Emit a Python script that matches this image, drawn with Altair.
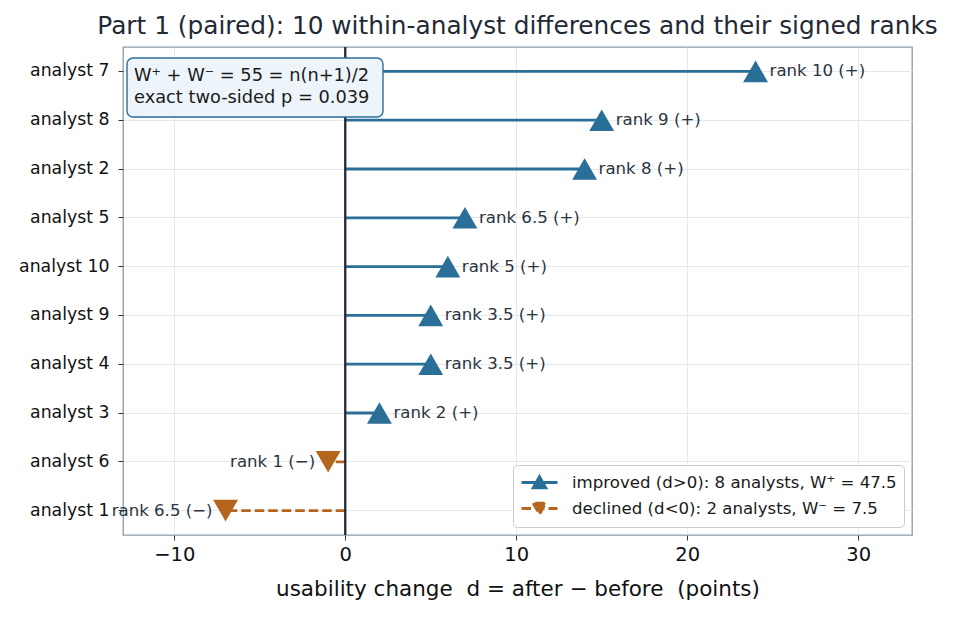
import altair as alt
import pandas as pd

# Within-analyst usability differences (after - before), top to bottom
analysts = ["analyst 7", "analyst 8", "analyst 2", "analyst 5", "analyst 10",
            "analyst 9", "analyst 4", "analyst 3", "analyst 6", "analyst 1"]
diffs = [24, 15, 14, 7, 6, 5, 5, 2, -1, -7]
rank_labels = ["rank 10 (+)", "rank 9 (+)", "rank 8 (+)", "rank 6.5 (+)", "rank 5 (+)",
               "rank 3.5 (+)", "rank 3.5 (+)", "rank 2 (+)", "rank 1 (\u2212)", "rank 6.5 (\u2212)"]

GROUP_UP = "improved (d>0): 8 analysts, W\u207a = 47.5"
GROUP_DOWN = "declined (d<0): 2 analysts, W\u207b = 7.5"
groups = [GROUP_UP, GROUP_DOWN]
note_lines = ["W\u207a + W\u207b = 55 = n(n+1)/2", "exact two-sided p = 0.039"]

BLUE = "#2a6f97"
ORANGE = "#b5651d"
INK = "#1f2a36"

df = pd.DataFrame({"analyst": analysts, "d": diffs, "label": rank_labels})
df["zero"] = 0
df["group"] = [GROUP_UP if v > 0 else GROUP_DOWN for v in diffs]

W, H = 789, 488
FONT = "DejaVu Sans"
NB = "\u00a0"

x_scale = alt.Scale(domain=[-13, 33.15], nice=False, zero=False)
y_sort = analysts
y_enc = alt.Y("analyst:N", sort=y_sort, scale=alt.Scale(paddingInner=1, paddingOuter=0.5),
              axis=alt.Axis(title=None, grid=True, gridColor="#e4e8ec", labelFontSize=17.3,
                            labelColor="#111111", tickSize=5, tickColor="#333333",
                            labelPadding=9, domain=False))
x_axis = alt.Axis(values=[-10, 0, 10, 20, 30], grid=True, gridColor="#e4e8ec",
                  labelFontSize=19.5, labelColor="#111111", tickSize=5, tickColor="#333333",
                  title=f"usability change{NB}{NB}d = after \u2212 before{NB}{NB}(points)",
                  titleFontSize=21.5, titleFontWeight="normal", titleColor="#111111",
                  titlePadding=15, domain=False, labelPadding=5)

color_scale = alt.Scale(domain=groups, range=[BLUE, ORANGE])
dash_scale = alt.Scale(domain=groups, range=[[1, 0], [9.5, 4]])
shape_scale = alt.Scale(
    domain=groups,
    # legend glyphs: a short stroke with a filled triangle at its centre
    range=["M-1,0L3,0M0.3,0.6L1,-0.65L1.7,0.6Z", "M-1,0L3,0M0.3,-0.6L1,0.65L1.7,-0.6Z"],
)
legend_def = alt.Legend(title=None)

base = alt.Chart(df)

stems = base.mark_rule(strokeWidth=2.8).encode(
    x=alt.X("zero:Q", scale=x_scale, axis=x_axis),
    x2="d:Q",
    y=y_enc,
    stroke=alt.Stroke("group:N", scale=color_scale, legend=legend_def),
    strokeDash=alt.StrokeDash("group:N", scale=dash_scale, legend=legend_def),
)

zero_line = alt.Chart(pd.DataFrame({"z": [0]})).mark_rule(color=INK, strokeWidth=2.3).encode(
    x=alt.X("z:Q", scale=x_scale)
)

up_markers = base.transform_filter("datum.d > 0").mark_point(
    filled=True, size=620, opacity=1, shape="triangle-up", color=BLUE
).encode(x=alt.X("d:Q", scale=x_scale), y=alt.Y("analyst:N", sort=y_sort))

down_markers = base.transform_filter("datum.d < 0").mark_point(
    filled=True, size=620, opacity=1, shape="triangle-down", color=ORANGE
).encode(x=alt.X("d:Q", scale=x_scale), y=alt.Y("analyst:N", sort=y_sort))

labels_pos = base.transform_filter("datum.d > 0").mark_text(
    align="left", dx=14, fontSize=16.6, color="#2b3440", font=FONT
).encode(x=alt.X("d:Q", scale=x_scale), y=alt.Y("analyst:N", sort=y_sort), text="label:N")

labels_neg = base.transform_filter("datum.d < 0").mark_text(
    align="right", dx=-13, fontSize=16.6, color="#2b3440", font=FONT
).encode(x=alt.X("d:Q", scale=x_scale), y=alt.Y("analyst:N", sort=y_sort), text="label:N")

# legend-only layer: draws nothing, carries the merged legend
legend_layer = base.transform_filter("false").mark_point(size=324, strokeWidth=2.8).encode(
    x=alt.X("zero:Q", scale=x_scale),
    y=alt.Y("analyst:N", sort=y_sort),
    fill=alt.Fill("group:N", scale=color_scale, legend=legend_def),
    stroke=alt.Stroke("group:N", scale=color_scale, legend=legend_def),
    shape=alt.Shape("group:N", scale=shape_scale, legend=legend_def),
    strokeDash=alt.StrokeDash("group:N", scale=dash_scale, legend=legend_def),
)

# statistics note in the upper-left corner
note_box = alt.Chart(pd.DataFrame({"k": [0]})).mark_rect(
    fill="#eef5fa", stroke=BLUE, strokeWidth=1.4, cornerRadius=6
).encode(x=alt.value(4), x2=alt.value(260), y=alt.value(11), y2=alt.value(70))
note_text = alt.Chart(pd.DataFrame({"t": ["\n".join(note_lines)]})).mark_text(
    align="left", baseline="middle", fontSize=17.8, color="#1a1a1a", font=FONT,
    lineBreak="\n", lineHeight=22
).encode(x=alt.value(11), y=alt.value(29), text="t:N")

chart = alt.layer(
    stems, zero_line, up_markers, down_markers, labels_pos, labels_neg,
    legend_layer, note_box, note_text
).properties(
    width=W, height=H,
    title=alt.Title("Part 1 (paired): 10 within-analyst differences and their signed ranks",
                    fontSize=24.8, fontWeight="normal", color=INK, font=FONT, offset=7),
    autosize=alt.AutoSizeParams(type="none"),
    padding={"left": 123, "top": 47, "right": 43, "bottom": 84},
).configure(font=FONT).configure_view(
    stroke="#8c99a5", strokeWidth=1.3
).configure_legend(
    orient="bottom-right", offset=8, fillColor="white", strokeColor="#cccccc",
    cornerRadius=4, padding=7, labelFontSize=16.6, labelColor="#1a1a1a", labelLimit=600,
    symbolSize=324, symbolStrokeWidth=2.8, symbolOpacity=1, labelOffset=31, rowPadding=3
)

chart.save("out.html", embed_options={"renderer": "svg", "actions": False})
